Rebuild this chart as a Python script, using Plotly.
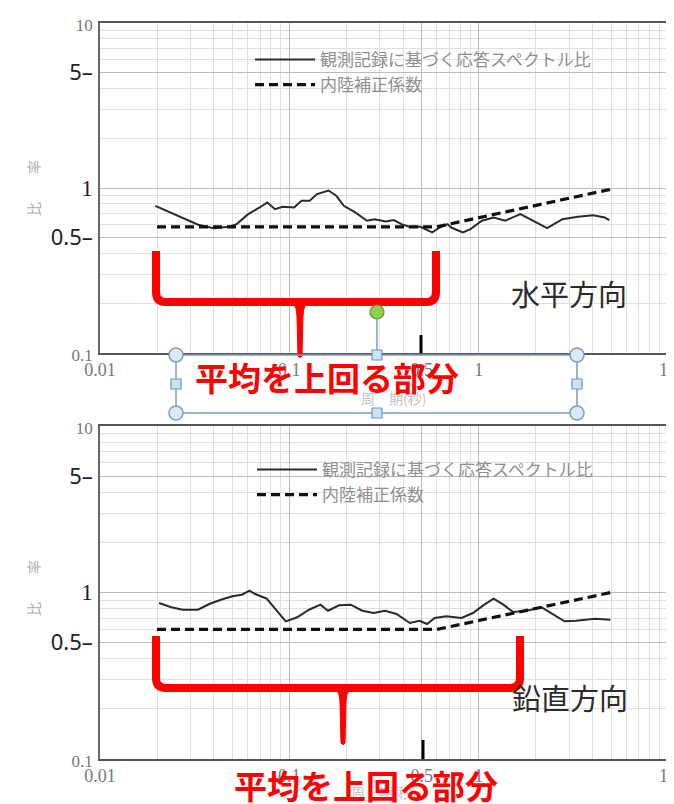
import plotly.graph_objects as go

# ---------------- data ----------------
period_h = [0.0196, 0.0274, 0.0330, 0.0398, 0.0480, 0.0527, 0.0606, 0.0697, 0.0765, 0.0840,
            0.0922, 0.106, 0.116, 0.128, 0.140, 0.161, 0.177, 0.194, 0.223, 0.257,
            0.282, 0.324, 0.356, 0.391, 0.429, 0.493, 0.568, 0.623, 0.685, 0.717,
            0.825, 0.905, 1.04, 1.20, 1.38, 1.66, 1.91, 2.30, 2.77, 3.34,
            4.03, 4.63, 4.90]
ratio_h = [0.78, 0.663, 0.599, 0.571, 0.582, 0.604, 0.694, 0.762, 0.817, 0.744,
           0.770, 0.762, 0.837, 0.837, 0.918, 0.966, 0.897, 0.78, 0.711, 0.633,
           0.647, 0.627, 0.639, 0.604, 0.582, 0.582, 0.538, 0.576, 0.604, 0.576,
           0.538, 0.563, 0.633, 0.663, 0.633, 0.694, 0.639, 0.571, 0.647, 0.669,
           0.684, 0.663, 0.639]
corr_period_h = [0.02, 0.6, 5.0]
corr_ratio_h = [0.582, 0.582, 0.983]

period_v = [0.0205, 0.0238, 0.0273, 0.0329, 0.0378, 0.0435, 0.0500, 0.0561, 0.0616, 0.0660,
            0.0759, 0.0853, 0.0957, 0.110, 0.127, 0.146, 0.160, 0.183, 0.211, 0.243,
            0.279, 0.320, 0.368, 0.433, 0.487, 0.534, 0.586, 0.674, 0.812, 0.933,
            1.07, 1.20, 1.35, 1.52, 1.79, 2.15, 2.47, 2.84, 3.27, 4.12,
            4.96]
ratio_v = [0.865, 0.815, 0.788, 0.788, 0.853, 0.905, 0.949, 0.970, 1.025, 0.979,
           0.918, 0.788, 0.671, 0.710, 0.788, 0.845, 0.777, 0.838, 0.845, 0.777,
           0.753, 0.777, 0.743, 0.656, 0.677, 0.647, 0.703, 0.720, 0.703, 0.753,
           0.845, 0.918, 0.845, 0.763, 0.777, 0.815, 0.736, 0.671, 0.677, 0.696,
           0.686]
corr_period_v = [0.02, 0.6, 5.0]
corr_ratio_v = [0.6, 0.6, 1.0]

x_tickvals = [0.01, 0.1, 0.5, 1, 10]
x_ticklabels = ["0.01", "0.1", "0.5", "1", "10"]
y_tickvals = [0.1, 0.5, 1, 5, 10]
y_ticklabels = ["0.1", "0.5", "1", "5", "10"]

name_obs = "観測記録に基づく応答スペクトル比"
name_corr = "内陸補正係数"
y_title = "比　　率"
x_title = "周　期(秒)"
label_h = "水平方向"
label_v = "鉛直方向"
note = "平均を上回る部分"

# ---------------- layout helpers ----------------
W, H = 674, 804
ML, MR, MT, MB = 92, 14, 15, 53
PW, PH = W - ML - MR, H - MT - MB


def fx(x):
    return (x - ML) / PW


def fy(y):
    return (H - MB - y) / PH


def P(x, y):
    return f"{fx(x):.5f},{fy(y):.5f}"


CJK = "Noto Sans CJK JP"
serif_small = "font-family:Liberation Serif;font-size:17px;color:#777777"
sans_big = "font-family:Noto Sans;font-size:22px;color:#222222"
serif_big = "font-family:Liberation Serif;font-size:23px;color:#222222"
y_style = {"0.1": (serif_small, ""), "10": (serif_small, ""),
           "0.5": (sans_big, "–"), "5": (sans_big, "–"), "1": (serif_big, "")}
y_ticktext = [f'<span style="{y_style[t][0]}">{t}{y_style[t][1]}</span>' for t in y_ticklabels]

fig = go.Figure()

solid = dict(color="#2a2a2a", width=2)
dashed = dict(color="#111111", width=3.2, dash="9px,5px")

fig.add_trace(go.Scatter(x=period_h, y=ratio_h, mode="lines", line=solid, name=name_obs,
                         xaxis="x", yaxis="y", legend="legend"))
fig.add_trace(go.Scatter(x=corr_period_h, y=corr_ratio_h, mode="lines", line=dashed, name=name_corr,
                         xaxis="x", yaxis="y", legend="legend"))
fig.add_trace(go.Scatter(x=period_v, y=ratio_v, mode="lines", line=solid, name=name_obs,
                         xaxis="x2", yaxis="y2", legend="legend2"))
fig.add_trace(go.Scatter(x=corr_period_v, y=corr_ratio_v, mode="lines", line=dashed, name=name_corr,
                         xaxis="x2", yaxis="y2", legend="legend2"))

xcommon = dict(type="log", range=[-2, 1], tickmode="array", tickvals=x_tickvals, ticktext=x_ticklabels,
               showgrid=True, gridcolor="#bcbcbc", gridwidth=1,
               minor=dict(dtick="D1", showgrid=True, gridcolor="#e0e0e0", ticks=""),
               showline=True, linecolor="#555555", linewidth=1.5, mirror=True, ticks="",
               tickfont=dict(family="Liberation Serif", size=18, color="#777777"),
               ticklabelstandoff=0, zeroline=False)
ycommon = dict(type="log", range=[-1, 1], tickmode="array", tickvals=y_tickvals, ticktext=y_ticktext,
               showgrid=True, gridcolor="#bcbcbc", gridwidth=1,
               minor=dict(dtick="D1", showgrid=True, gridcolor="#e0e0e0", ticks=""),
               showline=True, linecolor="#666666", linewidth=1.5, mirror=True, ticks="",
               tickfont=dict(family="Noto Sans", size=22, color="#222222"),
               ticklabelstandoff=1, zeroline=False)

legend_common = dict(xanchor="left", yanchor="top", bgcolor="rgba(0,0,0,0)", borderwidth=0,
                     font=dict(family=CJK, size=17, color="#8f8f8f"), itemwidth=60,
                     tracegroupgap=0, itemclick=False)

fig.update_layout(
    width=W, height=H, margin=dict(l=ML, r=MR, t=MT, b=MB, autoexpand=False),
    paper_bgcolor="white", plot_bgcolor="white", showlegend=True,
    xaxis=dict(xcommon, domain=[0, 1], anchor="y"),
    yaxis=dict(ycommon, domain=[fy(345), 1], anchor="x"),
    xaxis2=dict(xcommon, domain=[0, 1], anchor="y2"),
    yaxis2=dict(ycommon, domain=[0, fy(418)], anchor="x2"),
    legend=dict(legend_common, x=fx(242), y=fy(34)),
    legend2=dict(legend_common, x=fx(244), y=fy(444)),
)


def note_ann(text, cx, cy, size, color, angle=0):
    return dict(text=text, x=fx(cx), y=fy(cy), xref="paper", yref="paper", textangle=angle,
                xanchor="center", yanchor="middle", showarrow=False,
                font=dict(family=CJK, size=size, color=color))


ann = []
# y titles
for cy in (180, 580):
    ann.append(note_ann(y_title, 25, cy, 14, "#b0b0b0", -90))
# faint x titles (mostly hidden)
for cx, cy in ((385, 390), (375, 784)):
    ann.append(note_ann(x_title, cx, cy, 14, "#c4c4c4"))
# direction labels
ann.append(note_ann(label_h, 561, 285, 29, "#2b2b2b"))
ann.append(note_ann(label_v, 562, 689, 29, "#2b2b2b"))
# red notes
for cx, cy in ((319, 369), (358, 777)):
    ann.append(note_ann(f"<b>{note}</b>", cx, cy, 33, "#ff0000"))
fig.update_layout(annotations=ann)

shapes = []
RED = "#ff0000"


def bracket(xl, xr, ytop, yh, xs, ybot):
    out = []
    out.append(dict(type="path", xref="paper", yref="paper", layer="above",
                    path=f"M {P(xl, ytop)} L {P(xl, yh - 10)} Q {P(xl, yh)} {P(xl + 10, yh)} "
                         f"L {P(xr - 10, yh)} Q {P(xr, yh)} {P(xr, yh - 10)} L {P(xr, ytop)}",
                    line=dict(color=RED, width=8)))
    out.append(dict(type="path", xref="paper", yref="paper", layer="above",
                    path=f"M {P(xs - 17, yh - 3)} Q {P(xs - 3, yh - 2)} {P(xs - 3, yh + 14)} "
                         f"L {P(xs - 2, ybot - 2)} Q {P(xs, ybot + 1)} {P(xs + 2, ybot - 2)} "
                         f"L {P(xs + 3, yh + 14)} Q {P(xs + 3, yh - 2)} {P(xs + 17, yh - 3)} Z",
                    fillcolor=RED, line=dict(color=RED, width=1)))
    return out


shapes += bracket(148, 428, 243, 294, 292, 350)
shapes += bracket(148, 512, 628, 680, 335, 737)

# black marks near 0.5 on the period axis
shapes.append(dict(type="line", xref="paper", yref="paper", x0=fx(413), x1=fx(413), y0=fy(327), y1=fy(345),
                   line=dict(color="black", width=3)))
shapes.append(dict(type="line", xref="paper", yref="paper", x0=fx(415), x1=fx(415), y0=fy(732), y1=fy(751),
                   line=dict(color="black", width=3)))

# selection frame around the top note
BL = "#7d9bc1"
shapes.append(dict(type="rect", xref="paper", yref="paper", x0=fx(168), x1=fx(569), y0=fy(405), y1=fy(347),
                   line=dict(color=BL, width=1.5)))
shapes.append(dict(type="line", xref="paper", yref="paper", x0=fx(369), x1=fx(369), y0=fy(310), y1=fy(343),
                   line=dict(color=BL, width=1.5)))
for cx, cy in ((168, 347), (569, 347), (168, 405), (569, 405)):
    shapes.append(dict(type="circle", xref="paper", yref="paper", x0=fx(cx - 7), x1=fx(cx + 7),
                       y0=fy(cy + 7), y1=fy(cy - 7), fillcolor="#dbeaf7", line=dict(color=BL, width=1.5)))
for cx, cy in ((369, 347), (369, 405), (168, 376), (569, 376)):
    shapes.append(dict(type="rect", xref="paper", yref="paper", x0=fx(cx - 5), x1=fx(cx + 5),
                       y0=fy(cy + 5), y1=fy(cy - 5), fillcolor="#cfe3f5", line=dict(color="#6f93bd", width=1.2)))
shapes.append(dict(type="circle", xref="paper", yref="paper", x0=fx(362), x1=fx(376), y0=fy(311), y1=fy(297),
                   fillcolor="#8ed14a", line=dict(color="#5f8f3c", width=1.2)))
fig.update_layout(shapes=shapes)

fig.write_html("out.html")
